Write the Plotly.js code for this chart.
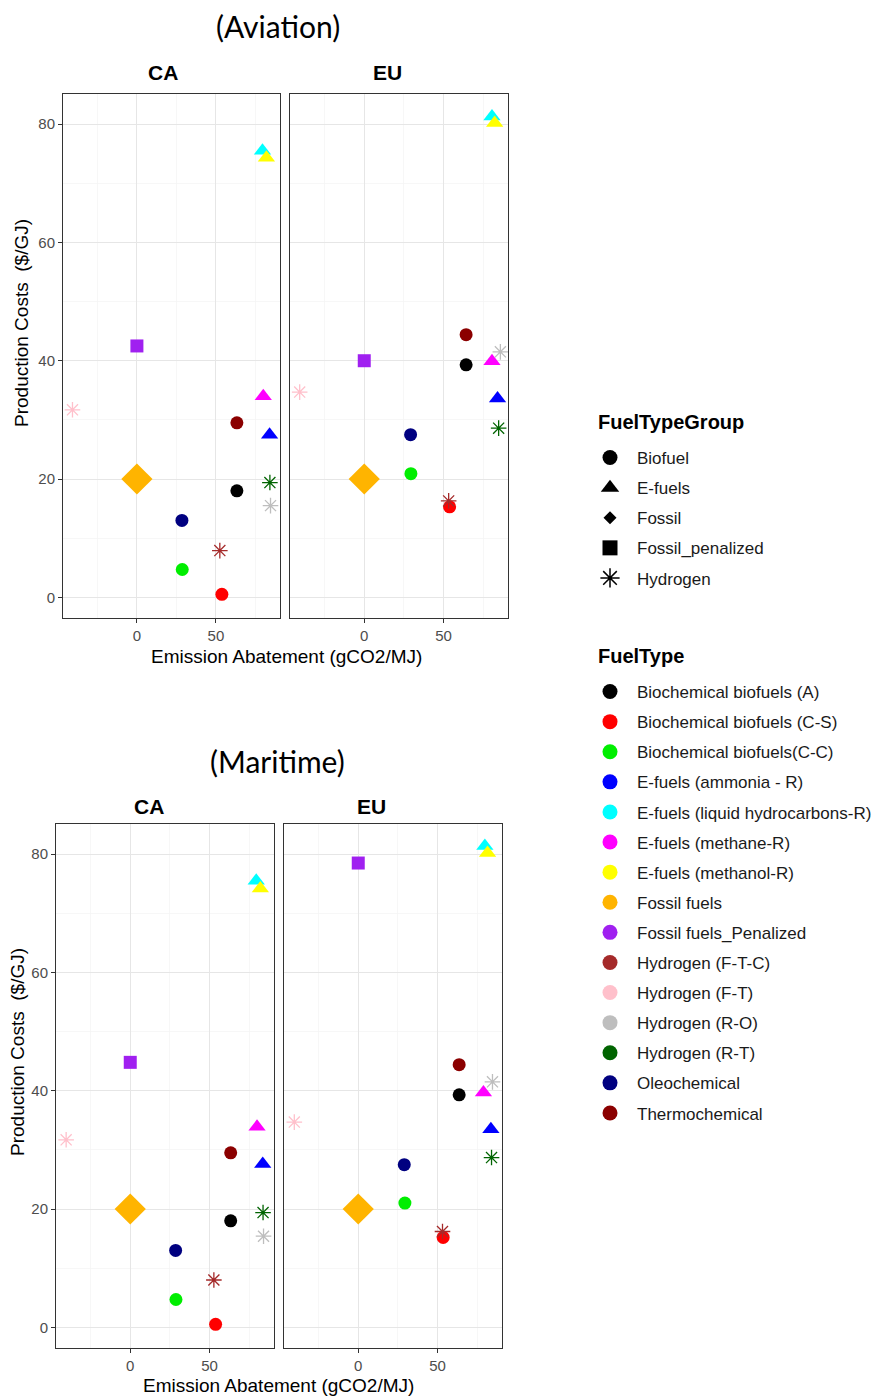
<!DOCTYPE html>
<html><head><meta charset="utf-8">
<script src="https://cdn.plot.ly/plotly-3.0.1.min.js"></script>
<style>html,body{margin:0;padding:0;background:#fff;} #chart{width:877px;height:1399px;}</style>
</head><body><div id="chart"></div>
<script>
// ---------- data ----------
const fuelTypes = ['Biochemical biofuels (A)','Biochemical biofuels (C-S)','Biochemical biofuels(C-C)',
  'E-fuels (ammonia - R)','E-fuels (liquid hydrocarbons-R)','E-fuels (methane-R)','E-fuels (methanol-R)',
  'Fossil fuels','Fossil fuels_Penalized','Hydrogen (F-T-C)','Hydrogen (F-T)','Hydrogen (R-O)',
  'Hydrogen (R-T)','Oleochemical','Thermochemical'];
const fuelGroups = ['Biofuel','Biofuel','Biofuel','E-fuels','E-fuels','E-fuels','E-fuels','Fossil',
  'Fossil_penalized','Hydrogen','Hydrogen','Hydrogen','Hydrogen','Biofuel','Biofuel'];
const fuelColors = ['#000000','#FF0000','#00EE00','#0000FF','#00FFFF','#FF00FF','#FFFF00','#FFB400',
  '#A020F0','#A52A2A','#FFC0CB','#BEBEBE','#006400','#000080','#8B0000'];
const groupNames = ['Biofuel','E-fuels','Fossil','Fossil_penalized','Hydrogen'];
const groupSymbols = ['circle','triangle-up','diamond','square','asterisk-open'];

const aviationCA_x = [63.3, 53.8, 28.7, 84, 79.5, 80, 82, 0, 0, 52.5, -40.8, 84.6, 84.2, 28.5, 63.3];
const aviationCA_y = [18, 0.5, 4.7, 27.5, 75.5, 34, 74.3, 20, 42.5, 7.9, 31.7, 15.5, 19.4, 13, 29.5];
const aviationEU_x = [64.2, 53.8, 29.4, 84, 80.5, 80.5, 82.2, 0, 0, 53.2, -40.7, 85.8, 84.7, 29.2, 64.2];
const aviationEU_y = [39.3, 15.3, 20.9, 33.6, 81.3, 39.9, 80.2, 20, 40, 16.3, 34.7, 41.5, 28.6, 27.5, 44.4];
const maritimeCA_x = [63.3, 53.8, 28.8, 83.5, 79.4, 79.9, 82, 0, 0, 52.7, -40.4, 84, 83.7, 28.6, 63.3];
const maritimeCA_y = [18, 0.5, 4.7, 27.6, 75.5, 33.9, 74.2, 20, 44.8, 8, 31.7, 15.4, 19.4, 13, 29.5];
const maritimeEU_x = [63.6, 53.5, 29.4, 83.6, 79.8, 78.9, 81.5, 0, 0, 53.1, -40.3, 84.6, 84, 29, 63.6];
const maritimeEU_y = [39.3, 15.2, 21, 33.5, 81.4, 39.7, 80.2, 20, 78.5, 16.2, 34.7, 41.5, 28.7, 27.5, 44.4];

// ---------- styles ----------
const W = 877, H = 1399;
const px = v => v / W, py = v => 1 - v / H;
const plotSize = {'circle':13,'triangle-up':15,'diamond':24,'square':13,'asterisk-open':13};
const legendSize = {'circle':15,'triangle-up':16,'diamond':10,'square':15,'asterisk-open':16};
const symOf = g => groupSymbols[groupNames.indexOf(g)];
const FONT = 'Liberation Sans, Arial, sans-serif';

function panelTrace(xs, ys, xa, ya) {
  const syms = fuelGroups.map(symOf);
  return {
    type: 'scatter', mode: 'markers', x: xs, y: ys, xaxis: xa, yaxis: ya,
    showlegend: false, text: fuelTypes, hoverinfo: 'x+y+text',
    marker: {
      symbol: syms, size: syms.map(s => plotSize[s]), color: fuelColors, opacity: 1,
      line: {color: fuelColors, width: syms.map(s => s === 'asterisk-open' ? 1.3 : 0)}
    }
  };
}

const traces = [
  panelTrace(aviationCA_x, aviationCA_y, 'x', 'y'),
  panelTrace(aviationEU_x, aviationEU_y, 'x2', 'y2'),
  panelTrace(maritimeCA_x, maritimeCA_y, 'x3', 'y3'),
  panelTrace(maritimeEU_x, maritimeEU_y, 'x4', 'y4')
];
groupNames.forEach((g, i) => {
  const s = groupSymbols[i];
  traces.push({type:'scatter', mode:'markers', x:[null], y:[null], name:g, legend:'legend',
    legendgroup:'g'+i,
    marker:{symbol:s, size:legendSize[s], color:'#000', opacity: 1,
      line:{color:'#000', width: s==='asterisk-open'?1.5:0}}});
});
fuelTypes.forEach((f, i) => {
  traces.push({type:'scatter', mode:'markers', x:[null], y:[null], name:f, legend:'legend2',
    legendgroup:'f'+i,
    marker:{symbol:'circle', size:15, color:fuelColors[i], opacity: 1}});
});

const XR = [-46.8, 90.6], YR = [-3.5, 85.1];
function xax(d, anchor) {
  return {domain: d, range: XR, anchor: anchor, tickvals: [0, 50], ticktext: ['0','50'],
    showgrid: true, gridcolor: '#E6E6E6', gridwidth: 1, zeroline: false,
    minor: {tickvals: [-25, 25, 75], showgrid: true, gridcolor: '#F3F3F3', gridwidth: 0.7, ticks: ''},
    showline: true, mirror: true, linecolor: '#333333', linewidth: 1,
    ticks: 'outside', ticklen: 4, tickcolor: '#333333', tickwidth: 1,
    tickfont: {family: FONT, size: 15, color: '#4D4D4D'}, fixedrange: true};
}
function yax(d, anchor, labels) {
  return {domain: d, range: YR, anchor: anchor, tickvals: [0, 20, 40, 60, 80],
    showgrid: true, gridcolor: '#E6E6E6', gridwidth: 1, zeroline: false,
    minor: {tickvals: [10, 30, 50, 70], showgrid: true, gridcolor: '#F3F3F3', gridwidth: 0.7, ticks: ''},
    showline: true, mirror: true, linecolor: '#333333', linewidth: 1,
    ticks: labels ? 'outside' : '', ticklen: 4, tickcolor: '#333333', tickwidth: 1,
    showticklabels: labels,
    tickfont: {family: FONT, size: 15, color: '#4D4D4D'}, fixedrange: true};
}

function ann(text, x, y, size, opts) {
  return Object.assign({text: text, x: px(x), y: py(y), xref: 'paper', yref: 'paper',
    xanchor: 'center', yanchor: 'middle', showarrow: false,
    font: {family: FONT, size: size, color: '#000'}}, opts || {});
}

const legendBase = {xanchor: 'left', yanchor: 'top', bgcolor: 'rgba(0,0,0,0)',
  itemwidth: 44, tracegroupgap: 5, traceorder: 'grouped',
  font: {family: FONT, size: 17, color: '#1A1A1A'}};

const layout = {
  width: W, height: H, margin: {l: 0, r: 0, t: 0, b: 0},
  paper_bgcolor: '#fff', plot_bgcolor: '#fff',
  font: {family: FONT},
  xaxis: xax([px(63), px(280)], 'y'),
  yaxis: yax([py(618), py(94)], 'x', true),
  xaxis2: xax([px(290), px(508)], 'y2'),
  yaxis2: yax([py(618), py(94)], 'x2', false),
  xaxis3: xax([px(56), px(274)], 'y3'),
  yaxis3: yax([py(1348), py(824)], 'x3', true),
  xaxis4: xax([px(284), px(502)], 'y4'),
  yaxis4: yax([py(1348), py(824)], 'x4', false),
  legend: Object.assign({x: px(583), y: py(440)}, legendBase),
  legend2: Object.assign({x: px(583), y: py(674)}, legendBase),
  annotations: [
    ann('(Aviation)', 277.5, 26, 30, {font: {family: 'Lato, Open Sans, sans-serif', size: 30, color: '#000'}}),
    ann('<b>CA</b>', 163, 72.5, 21),
    ann('<b>EU</b>', 387, 72.5, 21),
    ann('Emission Abatement (gCO2/MJ)', 286, 657, 19),
    ann('Production Costs \u00A0($/GJ)', 22, 323, 19, {textangle: -90}),
    ann('(Maritime)', 277.5, 761, 30, {font: {family: 'Lato, Open Sans, sans-serif', size: 30, color: '#000'}}),
    ann('<b>CA</b>', 148.5, 806, 21),
    ann('<b>EU</b>', 371, 806, 21),
    ann('Emission Abatement (gCO2/MJ)', 278, 1385, 19),
    ann('Production Costs \u00A0($/GJ)', 17, 1052, 19, {textangle: -90}),
    ann('<b>FuelTypeGroup</b>', 596, 421.5, 20, {xanchor: 'left'}),
    ann('<b>FuelType</b>', 596, 656, 20, {xanchor: 'left'})
  ]
};

Plotly.newPlot('chart', traces, layout, {displayModeBar: false, staticPlot: true});
</script>
</body></html>
